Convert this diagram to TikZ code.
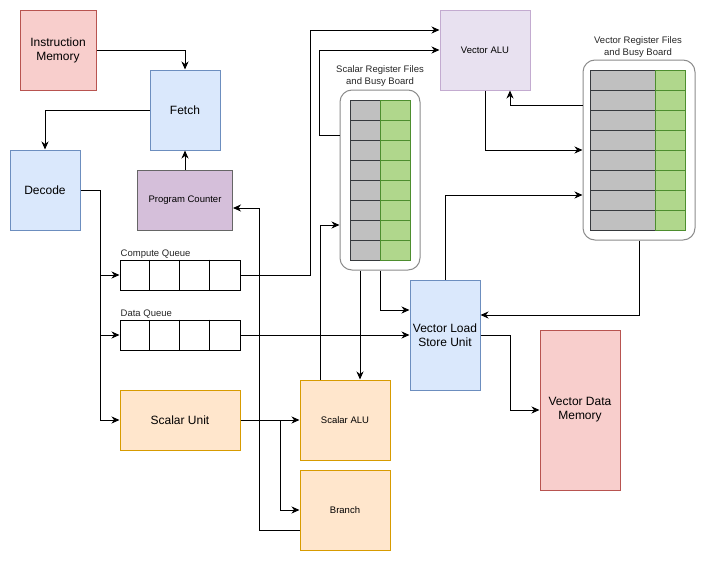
\documentclass[tikz,border=0pt]{standalone}
\usepackage{fontspec}
\setmainfont{Liberation Sans}
\usetikzlibrary{arrows.meta,calc}

\definecolor{redfill}{HTML}{F8CECC}
\definecolor{redline}{HTML}{B85450}
\definecolor{bluefill}{HTML}{DAE8FC}
\definecolor{blueline}{HTML}{6C8EBF}
\definecolor{orgfill}{HTML}{FFE6CC}
\definecolor{orgline}{HTML}{D79B00}
\definecolor{pcfill}{HTML}{D5BFDA}
\definecolor{pcline}{HTML}{666666}
\definecolor{alufill}{HTML}{E8E1F0}
\definecolor{aluline}{HTML}{C3ABD0}
\definecolor{regfill}{HTML}{C0C0C0}
\definecolor{regline}{HTML}{36393D}
\definecolor{busyfill}{HTML}{B0D78C}
\definecolor{busyline}{HTML}{4D8E2E}

\tikzset{
  block/.style={draw, line width=1pt, inner sep=0pt, align=center, font=\fontsize{12}{14}\selectfont},
  memblock/.style={block, fill=redfill, draw=redline},
  stageblock/.style={block, fill=bluefill, draw=blueline},
  unitblock/.style={block, fill=orgfill, draw=orgline},
  queue/.style={draw, line width=1pt, minimum width=120pt, minimum height=30pt, inner sep=0pt},
  regbox/.style={draw=black!45, line width=1pt, rounded corners=12pt, inner sep=0pt},
  regcell/.style={fill=regfill, draw=regline, line width=0.8pt},
  busycell/.style={fill=busyfill, draw=busyline, line width=0.8pt},
  smalltext/.style={font=\fontsize{9.5}{11.5}\selectfont, text=black!85, align=center},
  arr/.style={line width=1pt, -{Stealth[length=8pt,width=7pt,inset=2.5pt]}},
  wire/.style={line width=1pt}
}

\begin{document}
\begin{tikzpicture}[x=1pt, y=-1pt]
  \useasboundingbox (0,0) rectangle (705,562);

  % front end
  \node[memblock, minimum width=76pt, minimum height=80pt]   (imem)   at (58,50)   {Instruction\\Memory};
  \node[stageblock, minimum width=70pt, minimum height=80pt] (fetch)  at (185,110) {Fetch};
  \node[stageblock, minimum width=70pt, minimum height=80pt] (decode) at (45,190)  {Decode};
  \node[block, fill=pcfill, draw=pcline, minimum width=95pt, minimum height=60pt,
        font=\fontsize{9.5}{11}\selectfont] (pc) at (185,200) {Program Counter};

  % queues
  \node[queue] (cq) at (180,275) {};
  \node[queue] (dq) at (180,335) {};
  \foreach \q in {cq,dq}
    \foreach \i in {1,2,3}
      \draw[wire] ([xshift=\i*30pt]\q.north west) -- ([xshift=\i*30pt]\q.south west);
  \node[smalltext, anchor=south west, inner sep=1pt] at (cq.north west) {Compute Queue};
  \node[smalltext, anchor=south west, inner sep=1pt] at (dq.north west) {Data Queue};

  % scalar side
  \node[unitblock, minimum width=120pt, minimum height=60pt] (sunit)  at (180,420) {Scalar Unit};
  \node[unitblock, minimum width=90pt, minimum height=80pt,
        font=\fontsize{9.5}{11}\selectfont] (salu)   at (345,420) {Scalar ALU};
  \node[unitblock, minimum width=90pt, minimum height=80pt,
        font=\fontsize{9.5}{11}\selectfont] (branch) at (345,510) {Branch};

  % scalar register file
  \node[regbox, minimum width=80pt, minimum height=180pt] (sreg) at (380,180) {};
  \foreach \r in {0,...,7} {
    \draw[regcell]  (350,100+20*\r) rectangle ++(30,20);
    \draw[busycell] (380,100+20*\r) rectangle ++(30,20);
  }
  \node[smalltext] at (380,76) {Scalar Register Files\\and Busy Board};

  % vector side
  \node[block, fill=alufill, draw=aluline, minimum width=90pt, minimum height=80pt,
        font=\fontsize{9.5}{11}\selectfont] (valu) at (485,50) {Vector ALU};
  \node[stageblock, minimum width=70pt, minimum height=110pt] (vlsu) at (445,335) {Vector Load\\Store Unit};
  \node[memblock, minimum width=80pt, minimum height=160pt] (vdm) at (580,410) {Vector Data\\Memory};

  % vector register file
  \node[regbox, minimum width=112pt, minimum height=180pt] (vreg) at (639,150) {};
  \foreach \r in {0,...,7} {
    \draw[regcell]  (590,70+20*\r) rectangle ++(65,20);
    \draw[busycell] (655,70+20*\r) rectangle ++(30,20);
  }
  \node[smalltext] at (638,47) {Vector Register Files\\and Busy Board};

  % connections
  \draw[arr] (imem.east) -| (fetch.north);
  \draw[arr] (fetch.west) -| (decode.north);
  \draw[arr] (pc.north) -- (fetch.south);

  \coordinate (dbus) at (100,190);
  \draw[arr] (decode.east) -- (dbus) |- (sunit.west);
  \draw[arr] (dbus) |- (cq.west);
  \draw[arr] (dbus) |- (dq.west);

  \draw[arr] (cq.east) -- ++(70,0) |- ([yshift=20pt]valu.west);
  \draw[arr] ([yshift=45pt]sreg.west) -- ++(-20,0) |- (valu.west);
  \draw[arr] ([xshift=-25pt]salu.north) |- ([yshift=-45pt]sreg.west);
  \draw[arr] ([xshift=-20pt]sreg.south) -- ([xshift=15pt]salu.north);
  \draw[arr] (sreg.south) |- ([yshift=25pt]vlsu.west);
  \draw[arr] (dq.east) -- (vlsu.west);
  \draw[arr] (vlsu.east) -- ++(30,0) |- (vdm.west);

  \draw[arr] (vlsu.north) |- ([yshift=-45pt]vreg.west);
  \draw[arr] (valu.south) |- (vreg.west);
  \draw[arr] ([yshift=45pt]vreg.west) -| ([xshift=25pt]valu.south);
  \draw[arr] (vreg.south) |- ([yshift=20pt]vlsu.east);

  \draw[arr] (sunit.east) -- (salu.west);
  \draw[arr] (sunit.east) -- ++(40,0) |- (branch.west);
  \draw[arr] ([yshift=-20pt]branch.west) -- ++(-40,0) |- ([yshift=-8pt]pc.east);
\end{tikzpicture}
\end{document}
